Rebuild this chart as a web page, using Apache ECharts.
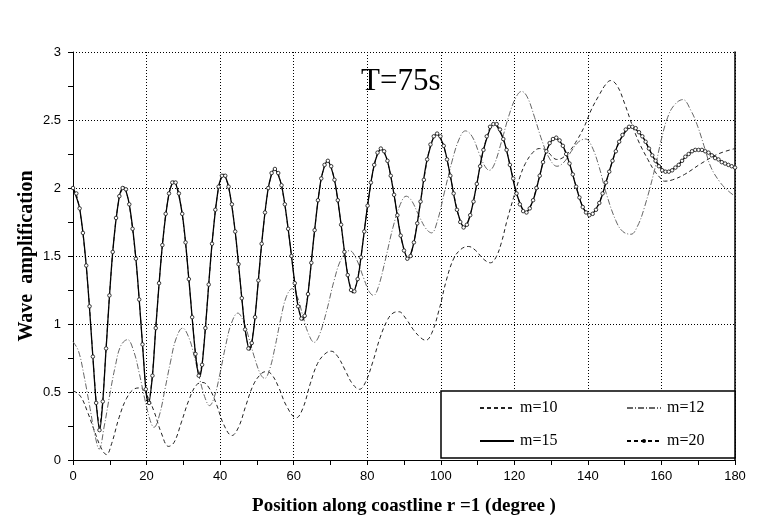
<!DOCTYPE html>
<html>
<head>
<meta charset="utf-8">
<script src="https://cdn.jsdelivr.net/npm/echarts@6/dist/echarts.min.js"></script>
<style>
  html, body { margin: 0; padding: 0; background: #fff; }
  #chart { width: 758px; height: 524px; }
</style>
</head>
<body>
<div id="chart"></div>
<script>
// m=10 : dashed curve, [degree, amplification]
var m10 = [
  [0,0.51],[2,0.47],[4,0.35],[6,0.20],[7.8,0.08],[9.1,0.04],[10.5,0.12],[12.5,0.31],[14.5,0.45],[16.5,0.52],
  [18.2,0.53],[20,0.48],[22,0.36],[24,0.20],[26,0.10],[27.5,0.13],[29.5,0.28],[31.5,0.44],[33.5,0.55],[35.3,0.57],
  [37,0.53],[39,0.41],[41,0.26],[43.2,0.18],[45,0.24],[47,0.40],[49,0.55],[51,0.63],[52.5,0.65],[54,0.63],
  [56,0.53],[58,0.40],[60.7,0.31],[62.5,0.38],[64.5,0.56],[66.5,0.71],[68.5,0.78],[70.2,0.80],[72,0.76],[74,0.66],
  [76,0.56],[77.9,0.52],[79.5,0.57],[81.5,0.72],[83.5,0.90],[85.5,1.03],[87,1.08],[88.6,1.09],[90.5,1.04],[92.5,0.96],
  [94.5,0.90],[95.9,0.88],[97.5,0.93],[99.5,1.10],[101.5,1.32],[103.5,1.48],[105.5,1.55],[107.5,1.57],[109.5,1.54],[111.5,1.48],
  [113.5,1.45],[115,1.49],[116.5,1.60],[118,1.76],[119.8,1.93],[121.5,2.08],[123,2.18],[125,2.26],[126.8,2.29],[128.5,2.28],
  [130,2.24],[131.5,2.21],[133,2.22],[135,2.27],[137,2.35],[139,2.45],[141,2.58],[143,2.68],[144.8,2.76],[146.2,2.79],
  [148,2.75],[150,2.62],[152.2,2.45],[154,2.33],[156.3,2.21],[158,2.13],[159.5,2.08],[160.8,2.05],[163,2.06],[166.3,2.10],
  [170.8,2.18],[175.4,2.25],[180,2.29]
];

// m=12 : dash-dot curve
var m12 = [
  [0,0.87],[1.5,0.80],[3,0.62],[4.5,0.40],[6,0.18],[7.1,0.08],[8.5,0.25],[10,0.48],[11.5,0.69],[13,0.84],
  [14.8,0.885],[16.5,0.80],[18,0.64],[19.5,0.45],[21,0.29],[22,0.24],[23.5,0.33],[25,0.52],[26.5,0.72],[28,0.89],
  [29.8,0.97],[31.5,0.90],[33,0.76],[34.5,0.59],[36,0.45],[37.1,0.40],[38.5,0.47],[40,0.64],[41.5,0.84],[43,1.00],
  [44.8,1.08],[46.5,1.01],[48,0.88],[49.5,0.74],[51,0.63],[52.1,0.60],[53.5,0.67],[55,0.84],[56.5,1.04],[58,1.20],
  [59.6,1.26],[61,1.20],[62.5,1.06],[64,0.93],[65.6,0.865],[67,0.92],[69,1.10],[71,1.32],[73,1.48],[75.2,1.54],
  [77,1.48],[79,1.34],[80.5,1.24],[81.7,1.21],[83,1.27],[85,1.48],[87,1.71],[89,1.88],[90.6,1.94],[92,1.91],
  [94,1.80],[96,1.70],[97.5,1.67],[99,1.75],[101,1.97],[103,2.19],[105,2.36],[106.7,2.42],[108.5,2.38],[110.5,2.25],
  [112,2.16],[113.2,2.13],[114.5,2.17],[116.5,2.34],[118.5,2.53],[120.5,2.67],[122,2.71],[123.5,2.67],[125.5,2.52],[127.5,2.35],
  [129.5,2.22],[131.6,2.16],[133.5,2.19],[135.5,2.27],[137.5,2.34],[139.4,2.36],[141,2.31],[143,2.16],[145,1.96],[147.6,1.76],
  [149.5,1.68],[151.7,1.66],[153.5,1.72],[155.4,1.86],[158.1,2.13],[160,2.36],[161.7,2.52],[163.5,2.61],[165.8,2.65],[168,2.57],
  [169.9,2.45],[171.8,2.29],[173.5,2.15],[176,2.04],[178.1,1.98],[180,1.94]
];

// m=15 : solid curve
var m15 = [
  [0,2.00],[1.8,1.85],[3.6,1.43],[5.4,0.76],[6.3,0.42],[7.25,0.22],[8.1,0.43],[9.0,0.82],[10.8,1.53],[12.6,1.94],
  [13.7,2.01],[15.3,1.88],[17.1,1.48],[18.9,0.85],[19.8,0.52],[20.5,0.41],[21.6,0.62],[22.5,0.97],[24.3,1.58],[26.1,1.96],
  [27.4,2.05],[29.7,1.81],[31.5,1.33],[33.3,0.78],[34.4,0.61],[35.1,0.70],[36.0,0.97],[37.8,1.59],[39.6,2.01],[40.9,2.10],
  [42.3,2.01],[44.1,1.68],[45.9,1.19],[46.8,0.96],[48.0,0.81],[48.6,0.86],[49.5,1.05],[51.3,1.59],[53.1,2.00],[54.8,2.14],
  [56.7,2.02],[58.5,1.70],[60.3,1.30],[61.2,1.13],[62.4,1.03],[63.0,1.06],[63.9,1.22],[65.7,1.69],[67.5,2.07],[69.2,2.20],
  [71.1,2.06],[72.9,1.73],[74.7,1.36],[76.1,1.23],[77.4,1.33],[78.3,1.49],[80.1,1.87],[81.9,2.17],[83.8,2.29],[85.5,2.20],
  [87.3,1.95],[89.1,1.65],[91.1,1.48],[92.7,1.60],[94.5,1.90],[96.3,2.21],[98.9,2.40],[100.8,2.31],[102.6,2.09],[104.4,1.84],
  [106.4,1.71],[108.0,1.80],[109.8,2.03],[111.6,2.28],[114.5,2.475],[117.0,2.36],[118.8,2.17],[120.6,1.96],[123.1,1.82],[125.1,1.91],
  [126.9,2.09],[128.7,2.27],[131.1,2.37],[133.2,2.31],[135.0,2.18],[136.8,2.01],[138.6,1.86],[140.5,1.80],[143.1,1.89],[144.9,2.04],
  [146.7,2.20],[148.5,2.34],[151.8,2.45],[154.8,2.38],[156.6,2.29],[158.4,2.20],[161.4,2.12],[163.8,2.15],[165.6,2.20],[167.4,2.25],
  [169.9,2.28],[172.8,2.26],[175.5,2.21],[178.2,2.17],[180,2.15]
];

// m=20 : marked curve, one value every m20Step degrees from 0
var m20Step = 0.9;
var m20 = [
  2.00,1.96,1.85,1.67,1.43,1.13,0.76,0.42,0.22,0.43,
  0.82,1.21,1.53,1.78,1.94,2.00,1.99,1.88,1.70,1.48,
  1.18,0.85,0.52,0.42,0.62,0.97,1.30,1.58,1.81,1.96,
  2.04,2.04,1.96,1.81,1.60,1.33,1.05,0.78,0.62,0.70,
  0.97,1.29,1.59,1.84,2.01,2.09,2.09,2.01,1.88,1.68,
  1.44,1.19,0.96,0.82,0.86,1.05,1.32,1.59,1.82,2.00,
  2.11,2.14,2.11,2.02,1.88,1.70,1.50,1.30,1.13,1.04,
  1.06,1.22,1.45,1.69,1.91,2.07,2.17,2.20,2.16,2.06,
  1.91,1.73,1.53,1.36,1.25,1.24,1.33,1.49,1.68,1.87,
  2.04,2.17,2.26,2.29,2.27,2.20,2.09,1.95,1.80,1.65,
  1.54,1.48,1.50,1.60,1.74,1.90,2.06,2.21,2.32,2.38,
  2.40,2.38,2.31,2.21,2.09,1.96,1.84,1.75,1.71,1.73,
  1.80,1.90,2.03,2.16,2.28,2.38,2.45,2.47,2.47,2.43,
  2.36,2.28,2.17,2.07,1.96,1.88,1.83,1.82,1.85,1.91,
  2.00,2.09,2.19,2.27,2.33,2.36,2.37,2.35,2.31,2.25,
  2.18,2.10,2.01,1.93,1.86,1.82,1.80,1.81,1.84,1.89,
  1.96,2.04,2.12,2.20,2.27,2.34,2.39,2.43,2.45,2.45,
  2.44,2.41,2.38,2.34,2.29,2.24,2.20,2.16,2.13,2.12,
  2.12,2.13,2.15,2.17,2.20,2.23,2.25,2.27,2.28,2.28,
  2.28,2.27,2.26,2.24,2.22,2.21,2.19,2.18,2.17,2.16,
  2.15
];

var chart = echarts.init(document.getElementById('chart'));

var serif = 'Liberation Serif';
var sans = 'Liberation Sans';

// one legend block per entry, laid out 2 x 2 inside the framed box
function legendEntry(name, left, top, iconH, hideSymbol) {
  return {
    z: 6,
    data: [name],
    left: left, top: top,
    padding: 0,
    itemWidth: 34, itemHeight: iconH,
    itemStyle: hideSymbol ? { opacity: 0 } : { color: '#000', borderWidth: 0 },
    textStyle: { fontFamily: serif, fontSize: 16, color: '#000', padding: [0, 0, 0, 1] }
  };
}

var option = {
  animation: false,
  backgroundColor: '#fff',
  title: {
    text: 'T=75s',
    left: 361,
    top: 66,
    padding: 0,
    textStyle: { fontFamily: serif, fontSize: 31, fontWeight: 'normal', color: '#000' }
  },
  grid: { left: 73, right: 23, top: 52, bottom: 64 },
  graphic: [{
    type: 'rect',
    z: 3,
    shape: { x: 441, y: 391, width: 294, height: 67 },
    style: { fill: '#fff', stroke: '#000', lineWidth: 1.5 }
  }],
  legend: [
    legendEntry('m=10', 479, 400, 14, true),
    legendEntry('m=12', 626, 400, 14, true),
    legendEntry('m=15', 479, 433, 14, true),
    legendEntry('m=20', 626, 433, 5, false)
  ],
  xAxis: {
    type: 'value',
    min: 0, max: 180, interval: 20,
    name: 'Position along coastline r =1 (degree )',
    nameLocation: 'middle',
    nameGap: 37,
    nameMoveOverlap: false,
    nameTextStyle: { fontFamily: serif, fontSize: 19, fontWeight: 'bold', color: '#000' },
    axisLine: { show: true, onZero: false, lineStyle: { color: '#000', width: 1 } },
    axisTick: { show: true, length: 5, lineStyle: { color: '#000' } },
    minorTick: { show: true, splitNumber: 2, length: 5, lineStyle: { color: '#000' } },
    axisLabel: { fontFamily: sans, fontSize: 13, color: '#000', margin: 10 },
    splitLine: { show: true, lineStyle: { color: '#000', width: 1, type: [1, 2] } }
  },
  yAxis: [{
    type: 'value',
    min: 0, max: 3, interval: 0.5,
    name: 'Wave  amplification',
    nameLocation: 'middle',
    nameGap: 36,
    nameMoveOverlap: false,
    nameTextStyle: { fontFamily: serif, fontSize: 20, fontWeight: 'bold', color: '#000' },
    axisLine: { show: true, onZero: false, lineStyle: { color: '#000', width: 1 } },
    axisTick: { show: true, length: 5, lineStyle: { color: '#000' } },
    minorTick: { show: true, splitNumber: 2, length: 5, lineStyle: { color: '#000' } },
    axisLabel: { fontFamily: sans, fontSize: 13, color: '#000', margin: 12 },
    splitLine: { show: true, lineStyle: { color: '#000', width: 1, type: [1, 2] } }
  }, {
    type: 'value',
    position: 'right',
    min: 0, max: 3,
    axisLine: { show: true, onZero: false, lineStyle: { color: '#000', width: 1.5 } },
    axisTick: { show: false },
    axisLabel: { show: false },
    splitLine: { show: false }
  }],
  series: [{
    name: 'm=10',
    type: 'line',
    data: m10,
    smooth: 0.4,
    symbol: 'none',
    lineStyle: { color: '#222', width: 1, type: [4, 3] },
    itemStyle: { color: '#222' }
  }, {
    name: 'm=12',
    type: 'line',
    data: m12,
    smooth: 0.4,
    symbol: 'none',
    lineStyle: { color: '#666', width: 1, type: [6, 2, 1, 2] },
    itemStyle: { color: '#666' }
  }, {
    name: 'm=15',
    type: 'line',
    data: m15,
    smooth: 0.3,
    symbol: 'none',
    lineStyle: { color: '#000', width: 1.3 },
    itemStyle: { color: '#000' }
  }, {
    name: 'm=20',
    type: 'line',
    data: m20.map(function (v, i) { return [+(i * m20Step).toFixed(1), v]; }),
    symbol: 'circle',
    symbolSize: 3.5,
    lineStyle: { color: '#000', width: 0.8, type: [4, 3] },
    itemStyle: { color: '#fff', borderColor: '#222', borderWidth: 0.9 }
  }]
};

chart.setOption(option);
</script>
</body>
</html>
